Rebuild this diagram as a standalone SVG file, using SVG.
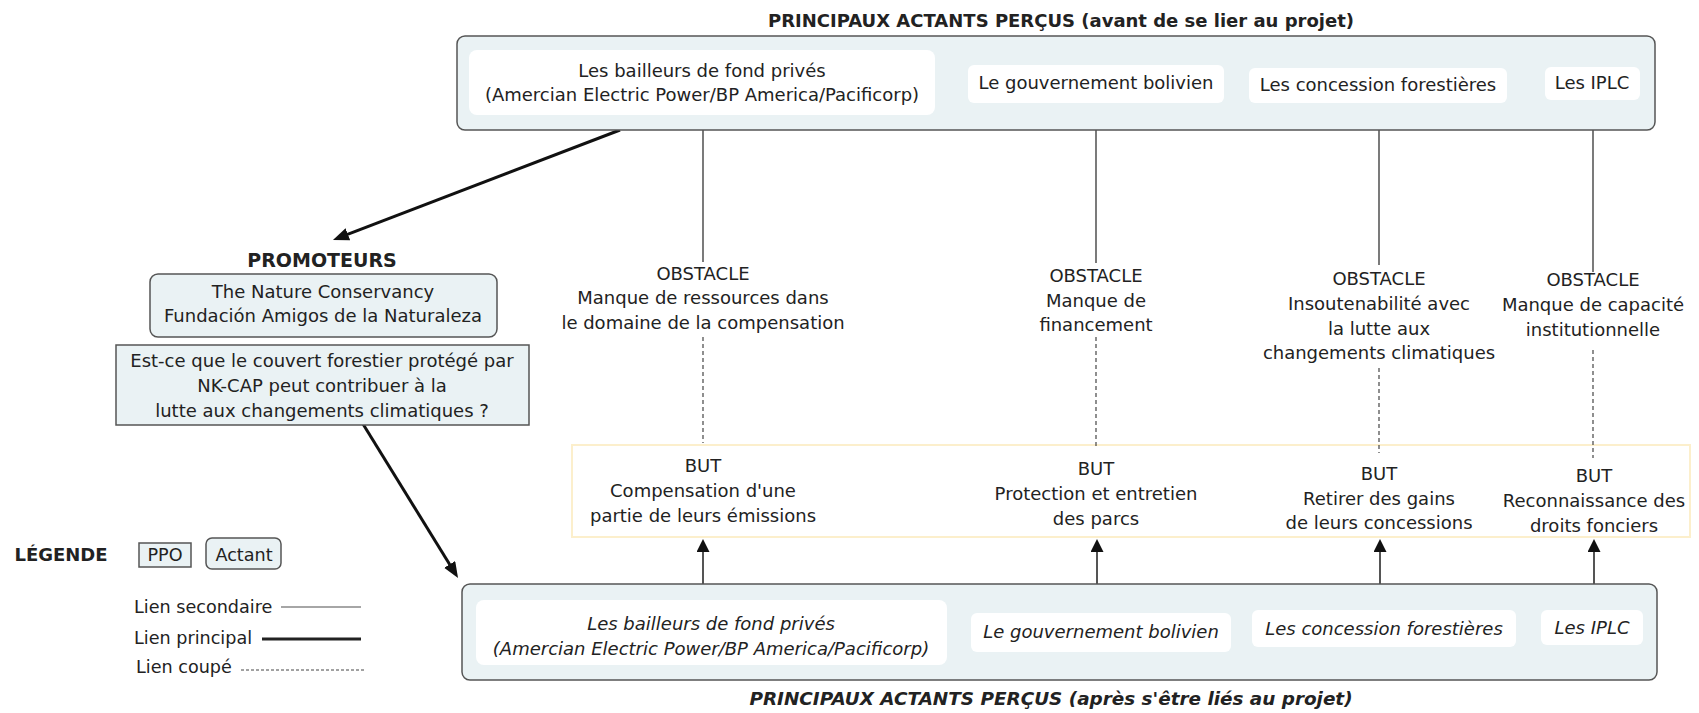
<svg xmlns="http://www.w3.org/2000/svg" width="1699" height="713" viewBox="0 0 1699 713">
  <style>
    text { font-family: "DejaVu Sans", "Liberation Sans", sans-serif; fill: #222; }
    .t { font-size: 18px; text-anchor: middle; }
    .ti { font-size: 18px; text-anchor: middle; font-style: italic; }
    .h { font-size: 18px; font-weight: bold; text-anchor: middle; }
    .hi { font-size: 18.4px; font-weight: bold; font-style: italic; text-anchor: middle; }
    .lg { font-size: 17.6px; }
    .group { fill: #eaf2f4; stroke: #555; stroke-width: 1.5; }
    .actor { fill: #ffffff; stroke: none; }
    .ppo { fill: #eaf2f4; stroke: #555; stroke-width: 1.5; }
    .goal { fill: #ffffff; stroke: #fcefcc; stroke-width: 2; }
    .thin { stroke: #222; stroke-width: 1.2; fill: none; }
    .cut { stroke: #333; stroke-width: 1.1; stroke-dasharray: 4 3; fill: none; }
    .main { stroke: #111; stroke-width: 3; fill: none; }
    .up { stroke: #555; stroke-width: 2; fill: none; }
  </style>
  <defs>
    <marker id="headMain" markerUnits="userSpaceOnUse" markerWidth="18" markerHeight="14" refX="6" refY="6.5" orient="auto">
      <path d="M0,0 L16,6.5 L0,13 z" fill="#111"/>
    </marker>
    <marker id="headUp" markerUnits="userSpaceOnUse" markerWidth="15" markerHeight="15" refX="3" refY="6.5" orient="auto">
      <path d="M0,0 L13,6.5 L0,13 z" fill="#111"/>
    </marker>
  </defs>

  <!-- headings -->
  <text class="h" x="1061" y="27">PRINCIPAUX ACTANTS PERÇUS (avant de se lier au projet)</text>
  <text class="hi" x="1051" y="705">PRINCIPAUX ACTANTS PERÇUS (après s'être liés au projet)</text>

  <!-- goals band -->
  <g id="goals">
    <rect class="goal" x="572" y="445" width="1118" height="92"/>
  </g>

  <!-- connectors -->
  <g id="connectors">
    <!-- secondary links: actors before to obstacles -->
    <line class="thin" x1="703" y1="115" x2="703" y2="262"/>
    <line class="thin" x1="1096" y1="103" x2="1096" y2="263"/>
    <line class="thin" x1="1379" y1="103" x2="1379" y2="265"/>
    <line class="thin" x1="1593" y1="100" x2="1593" y2="272"/>
    <!-- cut links: obstacles to goals -->
    <line class="cut" x1="703" y1="337" x2="703" y2="443"/>
    <line class="cut" x1="1096" y1="337" x2="1096" y2="448"/>
    <line class="cut" x1="1379" y1="368" x2="1379" y2="453"/>
    <line class="cut" x1="1593" y1="350" x2="1593" y2="458"/>
    <!-- actors after to goals -->
    <line class="up" x1="703" y1="584" x2="703" y2="549" marker-end="url(#headUp)"/>
    <line class="up" x1="1097" y1="584" x2="1097" y2="549" marker-end="url(#headUp)"/>
    <line class="up" x1="1380" y1="584" x2="1380" y2="549" marker-end="url(#headUp)"/>
    <line class="up" x1="1594" y1="584" x2="1594" y2="549" marker-end="url(#headUp)"/>
    <line class="thin" x1="1595" y1="645" x2="1595" y2="648"/>
    <!-- principal links -->
    <line class="main" x1="620" y1="130" x2="342.3" y2="236.4" marker-end="url(#headMain)"/>
    <line class="main" x1="363" y1="424" x2="452.8" y2="569.5" marker-end="url(#headMain)"/>
  </g>

  <!-- actors before joining -->
  <g id="actors-before">
    <rect class="group" x="457" y="36" width="1198" height="94" rx="8"/>
    <g id="before-bailleurs">
      <rect class="actor" x="469" y="50" width="466" height="65" rx="8"/>
      <text class="t" x="702" y="77">Les bailleurs de fond privés</text>
      <text class="t" x="702" y="101">(Amercian Electric Power/BP America/Pacificorp)</text>
    </g>
    <g id="before-gouvernement">
      <rect class="actor" x="968" y="65" width="256" height="38" rx="6"/>
      <text class="t" x="1096" y="89">Le gouvernement bolivien</text>
    </g>
    <g id="before-concessions">
      <rect class="actor" x="1249" y="68" width="258" height="35" rx="6"/>
      <text class="t" x="1378" y="91">Les concession forestières</text>
    </g>
    <g id="before-iplc">
      <rect class="actor" x="1545" y="67" width="95" height="33" rx="6"/>
      <text class="t" x="1592" y="89">Les IPLC</text>
    </g>
  </g>

  <!-- obstacles -->
  <g id="obstacle-1">
    <text class="t" x="703" y="280">OBSTACLE</text>
    <text class="t" x="703" y="304">Manque de ressources dans</text>
    <text class="t" x="703" y="329">le domaine de la compensation</text>
  </g>
  <g id="obstacle-2">
    <text class="t" x="1096" y="282">OBSTACLE</text>
    <text class="t" x="1096" y="307">Manque de</text>
    <text class="t" x="1096" y="331">financement</text>
  </g>
  <g id="obstacle-3">
    <text class="t" x="1379" y="285">OBSTACLE</text>
    <text class="t" x="1379" y="310">Insoutenabilité avec</text>
    <text class="t" x="1379" y="335">la lutte aux</text>
    <text class="t" x="1379" y="359">changements climatiques</text>
  </g>
  <g id="obstacle-4">
    <text class="t" x="1593" y="286">OBSTACLE</text>
    <text class="t" x="1593" y="311">Manque de capacité</text>
    <text class="t" x="1593" y="336">institutionnelle</text>
  </g>

  <!-- goals -->
  <g id="goal-1">
    <text class="t" x="703" y="472">BUT</text>
    <text class="t" x="703" y="497">Compensation d'une</text>
    <text class="t" x="703" y="522">partie de leurs émissions</text>
  </g>
  <g id="goal-2">
    <text class="t" x="1096" y="475">BUT</text>
    <text class="t" x="1096" y="500">Protection et entretien</text>
    <text class="t" x="1096" y="525">des parcs</text>
  </g>
  <g id="goal-3">
    <text class="t" x="1379" y="480">BUT</text>
    <text class="t" x="1379" y="505">Retirer des gains</text>
    <text class="t" x="1379" y="529">de leurs concessions</text>
  </g>
  <g id="goal-4">
    <text class="t" x="1594" y="482">BUT</text>
    <text class="t" x="1594" y="507">Reconnaissance des</text>
    <text class="t" x="1594" y="532">droits fonciers</text>
  </g>

  <!-- promoters -->
  <g id="promoteurs">
    <text class="h" x="322" y="267" style="font-size:19px">PROMOTEURS</text>
    <rect class="group" x="150" y="274" width="347" height="63" rx="8"/>
    <text class="t" x="323" y="298">The Nature Conservancy</text>
    <text class="t" x="323" y="322">Fundación Amigos de la Naturaleza</text>
  </g>

  <!-- research question -->
  <g id="ppo">
    <rect class="ppo" x="116" y="345" width="413" height="80"/>
    <text class="t" x="322" y="367">Est-ce que le couvert forestier protégé par</text>
    <text class="t" x="322" y="392">NK-CAP peut contribuer à la</text>
    <text class="t" x="322" y="417">lutte aux changements climatiques ?</text>
  </g>

  <!-- actors after joining -->
  <g id="actors-after">
    <rect class="group" x="462" y="584" width="1195" height="96" rx="8"/>
    <g id="after-bailleurs">
      <rect class="actor" x="476" y="600" width="471" height="65" rx="8"/>
      <text class="ti" x="711" y="630">Les bailleurs de fond privés</text>
      <text class="ti" x="711" y="655">(Amercian Electric Power/BP America/Pacificorp)</text>
    </g>
    <g id="after-gouvernement">
      <rect class="actor" x="971" y="613" width="260" height="39" rx="6"/>
      <text class="ti" x="1101" y="638">Le gouvernement bolivien</text>
    </g>
    <g id="after-concessions">
      <rect class="actor" x="1252" y="610" width="264" height="37" rx="6"/>
      <text class="ti" x="1384" y="635">Les concession forestières</text>
    </g>
    <g id="after-iplc">
      <rect class="actor" x="1541" y="610" width="102" height="35" rx="6"/>
      <text class="ti" x="1592" y="634">Les IPLC</text>
    </g>
  </g>

  <!-- legend -->
  <g id="legende">
    <text class="h" x="61" y="561">LÉGENDE</text>
    <rect class="ppo" x="139" y="543" width="52" height="24"/>
    <text class="lg" x="165" y="561" text-anchor="middle">PPO</text>
    <rect class="group" x="206" y="538" width="75" height="31" rx="6"/>
    <text class="lg" x="244" y="561" text-anchor="middle">Actant</text>
    <text class="lg" x="134" y="613">Lien secondaire</text>
    <line x1="281" y1="607" x2="361" y2="607" stroke="#888" stroke-width="1.5"/>
    <text class="lg" x="134" y="644">Lien principal</text>
    <line x1="262" y1="639" x2="361" y2="639" stroke="#222" stroke-width="3"/>
    <text class="lg" x="136" y="673">Lien coupé</text>
    <line x1="241" y1="670" x2="365" y2="670" stroke="#444" stroke-width="1" stroke-dasharray="3 2"/>
  </g>
</svg>
